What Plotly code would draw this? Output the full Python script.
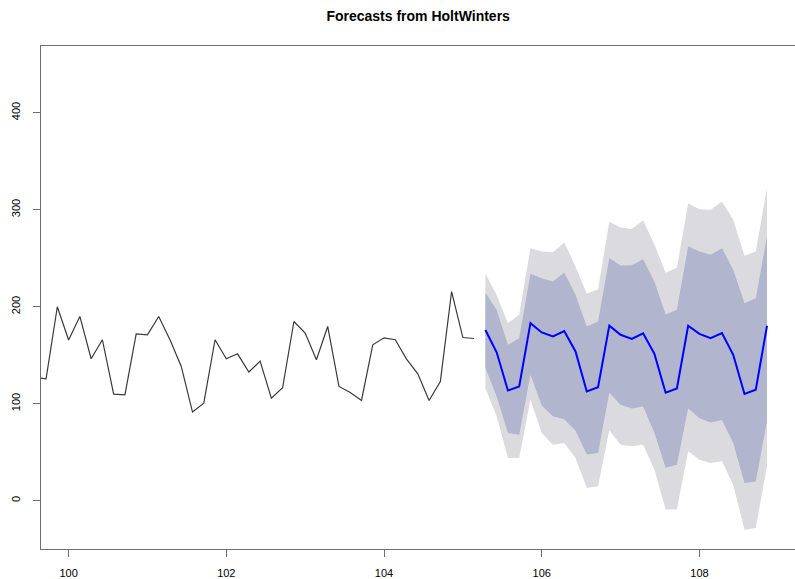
import plotly.graph_objects as go

# Observed series (ts, frequency 7)
obs_start = 99 + 4 / 7
freq = 7
observed = [127, 125.7, 199.9, 165.6, 189.9, 146.3, 165.9, 109.9, 109.2, 172,
            171, 189.9, 165.9, 138.4, 91.4, 100.6, 165.9, 146.3, 151.4, 132.6,
            143.8, 105.6, 116.4, 184.7, 172.8, 145.3, 179.6, 117.8, 111.6, 103.3,
            160.7, 167.9, 165.9, 146, 130.8, 103.3, 122.9, 215.6, 168.2, 167.2]

# Forecasts
fc_start = 105 + 2 / 7
fc_mean = [176, 153, 113.6, 117.8, 183, 173.4, 169.3, 174.8, 153.8, 112.6,
           117, 180.4, 171, 166.7, 172.5, 151.5, 111.3, 115.6, 180.3, 172,
           167.6, 172.7, 150.4, 110, 114.4, 180.3]
hi95 = [233.9, 212, 183, 191.6, 260.3, 256.9, 256, 266.1, 241.4, 213.2,
        218, 287.5, 281.5, 280, 289, 264, 235, 240, 306.6, 300.5,
        299.8, 308.4, 289.5, 252.4, 256.9, 322]
hi80 = [214.6, 196.7, 160.7, 167.5, 233.9, 229.4, 226, 235.3, 212.2, 179.6,
        184.7, 250.1, 242.5, 242.8, 248.8, 226, 192, 196.7, 262.4, 256.9,
        253.4, 260.3, 238, 203.6, 208.8, 272.3]
lo80 = [136.7, 107.5, 69.7, 68, 129.8, 98, 87, 84, 72, 47.5,
        49.2, 111.3, 98.8, 95, 97, 70, 34, 37, 95.4, 85.1,
        80.6, 83.3, 59.4, 18.2, 19.9, 81.9]
lo95 = [116.1, 86.9, 44, 44, 104, 69.7, 57.7, 59.4, 44, 13.1,
        14.8, 72.5, 57.7, 56, 57.7, 32.2, -9, -8.8, 50.9, 42.3,
        38.9, 40.6, 16.5, -29.9, -28.2, 36]

x_ticks = [100, 102, 104, 106, 108]
y_ticks = [0, 100, 200, 300, 400]

t_obs = [obs_start + i / freq for i in range(len(observed))]
t_fc = [fc_start + i / freq for i in range(len(fc_mean))]

fig = go.Figure()
fig.add_trace(go.Scatter(x=t_fc + t_fc[::-1], y=hi95 + lo95[::-1], fill="toself",
                         fillcolor="#DBDBDF", line=dict(width=0), mode="lines",
                         hoverinfo="skip", showlegend=False))
fig.add_trace(go.Scatter(x=t_fc + t_fc[::-1], y=hi80 + lo80[::-1], fill="toself",
                         fillcolor="#B1B5CE", line=dict(width=0), mode="lines",
                         hoverinfo="skip", showlegend=False))
fig.add_trace(go.Scatter(x=t_obs, y=observed, mode="lines",
                         line=dict(color="#3a3a3a", width=1.2), showlegend=False))
fig.add_trace(go.Scatter(x=t_fc, y=fc_mean, mode="lines",
                         line=dict(color="#0000FF", width=2), showlegend=False))

fnt = dict(family="Liberation Sans, Arial, sans-serif", size=11, color="#000000")
fig.update_layout(
    width=795, height=579,
    margin=dict(l=41, r=0, t=46, b=30),
    plot_bgcolor="white", paper_bgcolor="white",
    title=dict(text="<b>Forecasts from HoltWinters</b>", x=0.526, xanchor="center",
               y=1 - 16 / 579, yanchor="middle",
               font=dict(family="Liberation Sans, Arial, sans-serif", size=14, color="#000")),
    xaxis=dict(range=[99.650, 109.212], tickvals=x_ticks, ticktext=[str(v) for v in x_ticks],
               showgrid=False, zeroline=False, showline=True, linecolor="#6e6e6e",
               linewidth=1, mirror=True, ticks="outside", ticklen=7, tickcolor="#6e6e6e",
               tickfont=fnt, ticklabelstandoff=7),
    yaxis=dict(range=[-49.8, 468.7], tickvals=y_ticks, ticktext=[str(v) for v in y_ticks],
               showgrid=False, zeroline=False, showline=True, linecolor="#6e6e6e",
               linewidth=1, ticks="outside", ticklen=7, tickcolor="#6e6e6e",
               tickangle=-90, tickfont=fnt, ticklabelstandoff=9),
)

fig.write_html("out.html")
